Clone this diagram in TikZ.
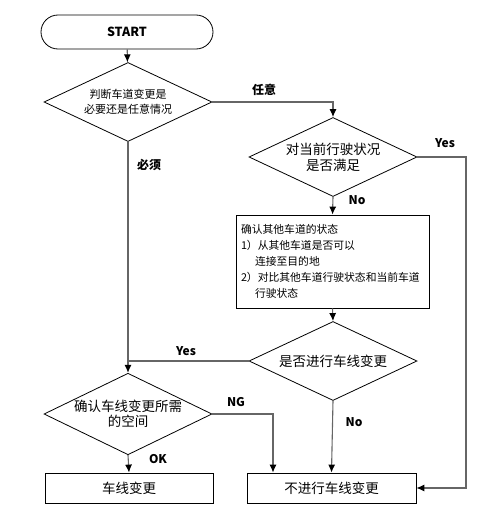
\documentclass[tikz,border=0pt]{standalone}
\usepackage{fontspec}
\setmainfont{Noto Sans CJK SC}
\usepackage{tikz}
\usetikzlibrary{arrows.meta, shapes.geometric, positioning, calc}
\tikzset{
  shapebox/.style={
    draw=black, line width=0.8pt, align=center, inner sep=0pt,
    font=\fontsize{13.5}{16}\selectfont
  },
  startbox/.style={shapebox, rectangle, rounded corners=17pt, minimum width=172pt, minimum height=34pt, font=\fontsize{12.5}{14}\selectfont\bfseries},
  decision/.style={shapebox, diamond, aspect=2, minimum width=168pt, minimum height=79pt},
  process/.style={shapebox, rectangle, minimum width=168pt, minimum height=30pt},
  flow/.style={draw=black!60, line width=1.1pt, -{Latex[length=8pt,width=7pt,black]}},
  joint/.style={draw=black!60, line width=1.1pt},
  lbl/.style={font=\fontsize{12}{14}\selectfont\bfseries}
}

\begin{document}
\begin{tikzpicture}[x=1pt, y=-1pt]
    \useasboundingbox (0,0) rectangle (500,514);
    
    % Shapes
    \node[startbox] (start) at (127,32) {START};
    \node[decision, font=\fontsize{11}{15}\selectfont] (d1) at (128,102) {判断车道变更是\\必要还是任意情况};
    \node[decision] (d2) at (333,157) {对当前行驶状况\\是否满足};
    \node[process, minimum width=193pt, minimum height=93pt, align=left, text width=183pt,
          font=\fontsize{10.8}{16}\selectfont] (check) at (332.5,261.5)
    {确认其他车道的状态\\
     1）从其他车道是否可以\\
     \hspace*{1.3em}连接至目的地\\
     2）对比其他车道行驶状态和当前车道\\
     \hspace*{1.3em}行驶状态};
    \node[decision] (d3) at (333,361) {是否进行车线变更};
    \node[decision, font=\fontsize{13.5}{15}\selectfont] (d4) at (128,414) {确认车线变更所需\\的空间};
    \node[process] (change) at (129,488) {车线变更};
    \node[process, minimum width=169pt] (nochange) at (331.5,488) {不进行车线变更};
    
    % Turning points
    \coordinate (yesturn) at (466,157);
    \coordinate (ngturn) at (273,414);
    
    % Connectors
    \draw[flow] (start) -- (d1);
    \draw[flow] (d1.east) -| (d2.north);
    \draw[flow] (d1.south) -- (d4.north);
    \draw[flow] (d2.south) -- (check.north);
    \draw[flow] (d2.east) -- (yesturn) |- (nochange.east);
    \draw[flow] (check.south) -- (d3.north);
    \draw[joint] (d3.west) -- (d3.west -| d1.south);
    \draw[flow] (d3.south) -- (nochange.north);
    \draw[flow] (d4.south) -- (change.north);
    \draw[flow] (d4.east) -- (ngturn) -- (ngturn |- nochange.north);
    
    % Labels
    \node[lbl] (arbitrary) at (264,90) {任意};
    \node[lbl] (must) at (149,165) {必须};
    \node[lbl] (yes1) at (445,143) {Yes};
    \node[lbl] (no1) at (357,200) {No};
    \node[lbl] (yes2) at (186,351) {Yes};
    \node[lbl] (ng) at (236,402) {NG};
    \node[lbl] (ok) at (158,459) {OK};
    \node[lbl] (no2) at (354,422) {No};
    
\end{tikzpicture}
\end{document}
